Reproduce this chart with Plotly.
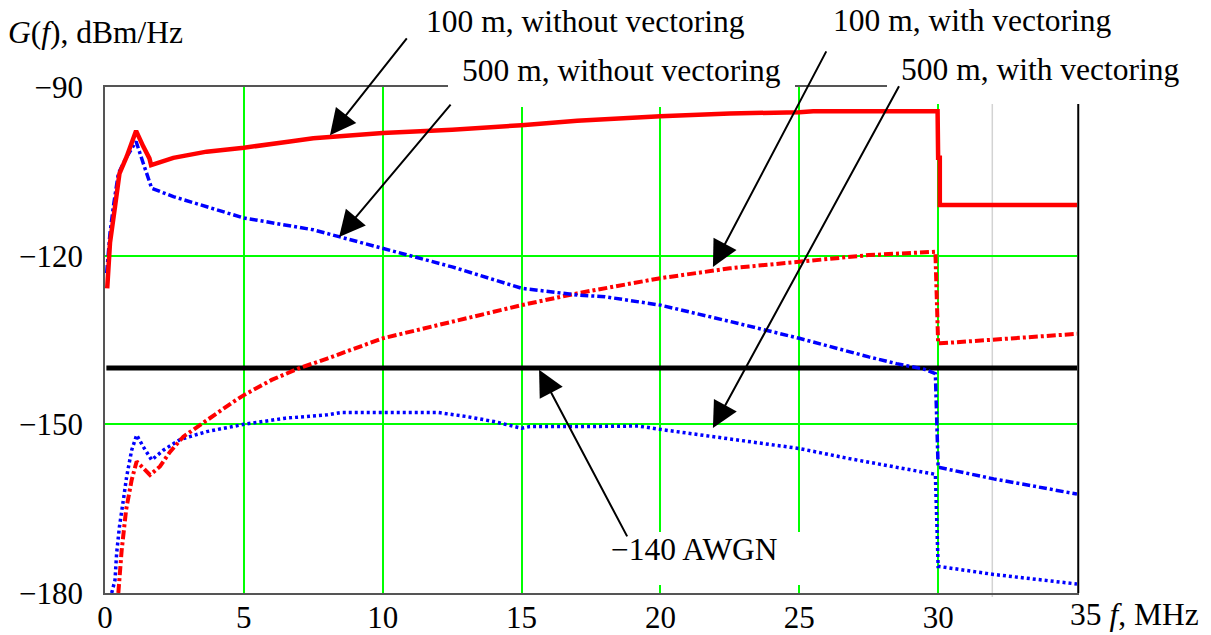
import plotly.graph_objects as go

# ---------------- data ----------------
f_100_no = [0.08, 0.18, 0.36, 0.52, 0.78, 0.96, 1.12, 1.38, 1.6, 1.66, 2.46, 3.66, 5.0, 6.66, 7.5,
            10, 12.5, 15, 17, 20, 22.5, 25, 25.5, 29.98, 30.0, 30.06, 30.06, 35]
g_100_no = [-125.8, -117.7, -111.3, -105.4, -102.4, -99.7, -97.8, -100.6, -102.7, -103.9, -102.6,
            -101.5, -100.8, -99.7, -99.1, -98.2, -97.6, -96.8, -96.0, -95.2, -94.7, -94.5, -94.3,
            -94.3, -102.6, -102.6, -111.0, -111.0]

f_500_no = [0.06, 0.18, 0.3, 0.48, 0.78, 1.12, 1.38, 1.56, 1.68, 2.46, 3.66, 5.0, 7.5, 10, 12.5,
            15, 16, 17, 18, 20, 22.5, 25, 27.5, 28.5, 29.5, 29.9, 30.0, 30.06, 32, 35]
g_500_no = [-123.1, -116.0, -111.3, -105.4, -102.4, -99.7, -103.6, -106.5, -108.0, -109.5, -111.3,
            -113.3, -115.4, -118.7, -122.0, -125.8, -126.4, -127.0, -127.3, -128.8, -131.7, -134.7,
            -138.0, -139.2, -140.2, -141.0, -157.7, -157.7, -159.7, -162.4]

f_100_vec = [0.48, 0.6, 0.76, 0.96, 1.14, 1.32, 1.62, 1.98, 2.34, 2.82, 3.42, 4.02, 4.62, 5.0, 6.0,
             7.0, 8.0, 10, 12.5, 15, 17, 18, 20, 22.5, 25, 27.5, 29.9, 30.0, 30.06, 32, 35]
g_100_vec = [-180.0, -172.4, -165.2, -159.9, -156.6, -157.5, -159.0, -157.5, -154.9, -152.2, -150.1,
             -148.0, -146.0, -144.8, -142.1, -140.0, -138.3, -134.7, -131.7, -128.8, -126.7, -125.8,
             -124.0, -122.25, -121.1, -119.9, -119.3, -135.6, -135.6, -135.0, -133.9]

f_500_vec = [0.24, 0.36, 0.42, 0.52, 0.66, 0.78, 0.96, 1.14, 1.38, 1.68, 2.1, 2.7, 3.66, 4.62, 5.0,
             6.5, 8.0, 8.5, 10, 12, 13, 14, 15, 15.3, 17, 19.2, 20, 21.8, 25, 26.8, 29.9, 30.0,
             30.06, 32, 35]
g_500_vec = [-180.0, -177.7, -172.9, -168.2, -163.5, -159.3, -154.6, -151.9, -154.0, -156.35, -154.6,
             -152.7, -151.3, -150.4, -150.0, -148.9, -148.3, -147.9, -147.9, -147.9, -148.6, -149.5,
             -150.7, -150.4, -150.4, -150.3, -150.9, -152.1, -154.3, -156.1, -158.9, -175.3, -175.3,
             -176.7, -178.4]

f_awgn = [0.05, 35]
g_awgn = [-140, -140]

x_ticks = [0, 5, 10, 15, 20, 25, 30, 35]
x_ticktext = ["0", "5", "10", "15", "20", "25", "30", ""]
y_ticks = [-180, -150, -120, -90]
y_ticktext = ["\u2212180", "\u2212150", "\u2212120", "\u221290"]

# annotation arrows: (tip f, tip G, tail f, tail G)
arrows = [
    (8.10, -98.6, 10.91, -81.1),
    (8.43, -116.7, 12.49, -92.85),
    (21.89, -122.0, 26.0, -83.4),
    (21.89, -150.65, 28.62, -89.6),
    (15.63, -140.3, 18.83, -170.2),
]

# ---------------- layout geometry (screen pixels) ----------------
BODY = 8                      # default page margin around the plot div
W, H = 1211 - BODY, 635 - BODY
PL, PR, PT, PB = 105, 1077, 87, 593   # plot area on screen
FONT = "Liberation Serif"
FS = 31


def px(x):
    return (x - PL) / (PR - PL)


def py(y):
    return (PB - y) / (PB - PT)


fig = go.Figure()

fig.add_trace(go.Scatter(x=f_awgn, y=g_awgn, mode="lines",
                         line=dict(color="black", width=5), hoverinfo="skip"))
fig.add_trace(go.Scatter(x=f_500_vec, y=g_500_vec, mode="lines",
                         line=dict(color="#0000ff", width=3.5, dash="3px,3px")))
fig.add_trace(go.Scatter(x=f_100_vec, y=g_100_vec, mode="lines",
                         line=dict(color="#ff0000", width=4, dash="9px,3px,3px,3px")))
fig.add_trace(go.Scatter(x=f_500_no, y=g_500_no, mode="lines",
                         line=dict(color="#0000ff", width=3.5, dash="8px,3px,3px,3px")))
fig.add_trace(go.Scatter(x=f_100_no, y=g_100_no, mode="lines",
                         line=dict(color="#ff0000", width=4.5)))

shapes = [
    dict(type="line", xref="x", yref="paper", x0=31.95, x1=31.95, y0=py(597), y1=1,
         line=dict(color="#d3d3d3", width=1.5), layer="between"),
    dict(type="line", xref="paper", yref="paper", x0=px(1078.5), x1=px(1078.5), y0=0, y1=1,
         line=dict(color="black", width=1.5), layer="above"),
    dict(type="rect", xref="paper", yref="paper", x0=px(448), x1=px(795), y0=py(107), y1=py(40),
         fillcolor="white", line=dict(width=0), layer="above"),
    dict(type="rect", xref="paper", yref="paper", x0=px(887), x1=px(1211), y0=py(104), y1=py(40),
         fillcolor="white", line=dict(width=0), layer="above"),
    dict(type="rect", xref="paper", yref="paper", x0=px(605), x1=px(815), y0=py(585), y1=py(532),
         fillcolor="white", line=dict(width=0), layer="above"),
]

annotations = []
for tx, ty, ax, ay in arrows:
    annotations.append(dict(x=tx, y=ty, ax=ax, ay=ay, xref="x", yref="y", axref="x", ayref="y",
                            text="", showarrow=True, arrowhead=2, arrowsize=2.6, arrowwidth=2,
                            arrowcolor="black", standoff=0, startstandoff=0))

labels = [
    ("100 m, without vectoring", 428, 24),
    ("500 m, without vectoring", 464, 74),
    ("100 m, with vectoring", 835, 23),
    ("500 m, with vectoring", 903, 72.5),
    ("\u2212140 AWGN", 613, 552.5),
    ("<i>G</i>(<i>f</i>), dBm/Hz", 10, 36),
    ("35 <i>f</i>, MHz", 1072, 617.5),
]
for txt, lx, ly in labels:
    annotations.append(dict(x=px(lx - 4), y=py(ly - 3), xref="paper", yref="paper", text=txt,
                            showarrow=False, xanchor="left", yanchor="middle",
                            font=dict(family=FONT, size=FS + 0.5, color="black")))

fig.update_layout(
    width=W, height=H, autosize=False,
    margin=dict(l=PL - BODY, r=W - (PR - BODY), t=PT - BODY, b=H - (PB - BODY), pad=0,
                autoexpand=False),
    paper_bgcolor="white", plot_bgcolor="white",
    showlegend=False,
    font=dict(family=FONT, size=FS, color="black"),
    shapes=shapes, annotations=annotations,
    xaxis=dict(range=[0, 35], tickmode="array", tickvals=x_ticks, ticktext=x_ticktext,
               showgrid=True, gridcolor="#00ff00", gridwidth=1.5, zeroline=False,
               showline=True, linecolor="#555555", linewidth=1.5, mirror=True, automargin=False,
               ticks="", ticklabelstandoff=-4, tickfont=dict(family=FONT, size=FS, color="black")),
    yaxis=dict(range=[-180, -90], tickmode="array", tickvals=y_ticks, ticktext=y_ticktext,
               showgrid=True, gridcolor="#00ff00", gridwidth=1.5, zeroline=False,
               showline=True, linecolor="#555555", linewidth=1.5, mirror=True, automargin=False,
               ticks="", ticklabelstandoff=14, tickfont=dict(family=FONT, size=FS, color="black")),
)

fig.write_html("out.html")
